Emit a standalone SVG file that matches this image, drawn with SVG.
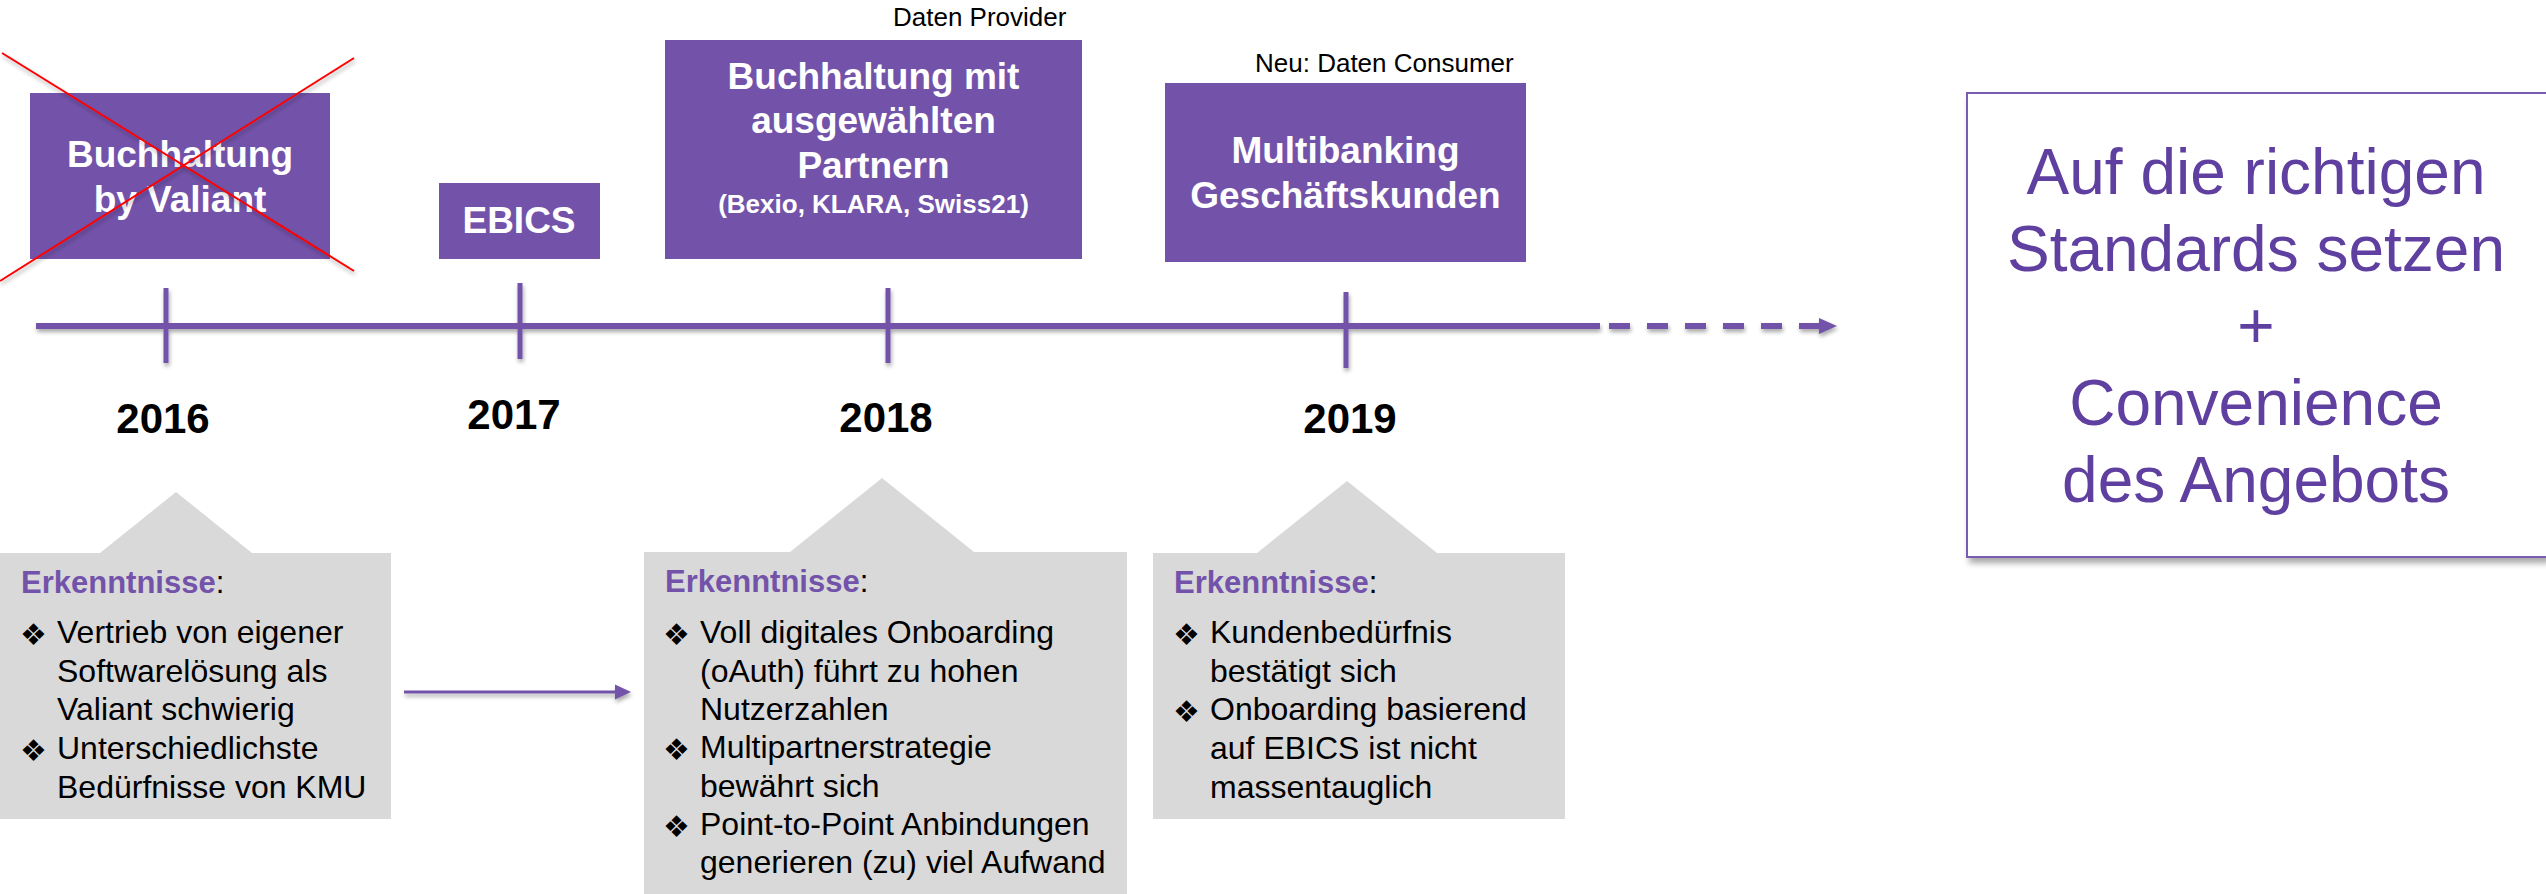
<svg xmlns="http://www.w3.org/2000/svg" width="2546" height="894" viewBox="0 0 2546 894">
<defs>
<style>
.pbox{fill:#7353aa}
.wt{font-family:"Liberation Sans",Arial,sans-serif;font-weight:bold;fill:#ffffff;text-anchor:middle}
.yr{font-family:"Liberation Sans",Arial,sans-serif;font-weight:bold;font-size:42px;fill:#000000;text-anchor:middle}
.note{font-family:"Liberation Sans",Arial,sans-serif;font-size:26px;fill:#000000}
.gbox{fill:#d9d9d9}
.hd{font-family:"Liberation Sans",Arial,sans-serif;font-size:31px;font-weight:bold;fill:#7353aa}
.colon{font-weight:normal;fill:#000000}
.bt{font-family:"Liberation Sans",Arial,sans-serif;font-size:32px;fill:#000000}
.bul{font-family:"DejaVu Sans",sans-serif;font-size:30px;fill:#000000}
.goal{font-family:"Liberation Sans",Arial,sans-serif;font-size:64px;fill:#5f3f9f;text-anchor:middle}
.tl{stroke:#7353aa;fill:none}
</style>
<filter id="sh" x="-5%" y="-50%" width="110%" height="200%">
<feGaussianBlur in="SourceAlpha" stdDeviation="2"/>
<feOffset dx="1" dy="3" result="b"/>
<feComponentTransfer><feFuncA type="linear" slope="0.35"/></feComponentTransfer>
<feMerge><feMergeNode/><feMergeNode in="SourceGraphic"/></feMerge>
</filter>
<filter id="sh2" x="-5%" y="-5%" width="110%" height="110%">
<feGaussianBlur in="SourceAlpha" stdDeviation="3"/>
<feOffset dx="3" dy="5" result="b"/>
<feComponentTransfer><feFuncA type="linear" slope="0.35"/></feComponentTransfer>
<feMerge><feMergeNode/><feMergeNode in="SourceGraphic"/></feMerge>
</filter>
</defs>

<g id="connectors" filter="url(#sh)">
<line class="tl" x1="36" y1="326" x2="1600" y2="326" stroke-width="6"/>
<line class="tl" x1="1609" y1="326" x2="1820" y2="326" stroke-width="6" stroke-dasharray="21 17"/>
<path d="M1819,318 L1837,326 L1819,334 z" fill="#7353aa"/>
<line class="tl" x1="166" y1="288" x2="166" y2="363" stroke-width="5"/>
<line class="tl" x1="520" y1="283" x2="520" y2="359" stroke-width="5"/>
<line class="tl" x1="888" y1="288" x2="888" y2="363" stroke-width="5"/>
<line class="tl" x1="1346" y1="292" x2="1346" y2="368" stroke-width="5"/>
<line class="tl" x1="404" y1="692" x2="616" y2="692" stroke-width="3"/>
<path d="M615,684.5 L631,692 L615,699.5 z" fill="#7353aa"/>
</g>

<g id="node-2016">
<rect class="pbox" x="30" y="93" width="300" height="166"/>
<text class="wt" font-size="37" x="180" y="167">Buchhaltung</text>
<text class="wt" font-size="37" x="180" y="212">by Valiant</text>
<g filter="url(#sh)">
<line x1="2" y1="53" x2="354" y2="271" stroke="#ff0000" stroke-width="2"/>
<line x1="354" y1="58" x2="0" y2="281" stroke="#ff0000" stroke-width="2"/>
</g>
</g>

<g id="node-2017">
<rect class="pbox" x="439" y="183" width="161" height="76"/>
<text class="wt" font-size="37" x="519" y="233">EBICS</text>
</g>

<g id="node-2018">
<text class="note" x="893" y="26">Daten Provider</text>
<rect class="pbox" x="665" y="40" width="417" height="219"/>
<text class="wt" font-size="37" x="873.5" y="89">Buchhaltung mit</text>
<text class="wt" font-size="37" x="873.5" y="133">ausgewählten</text>
<text class="wt" font-size="37" x="873.5" y="178">Partnern</text>
<text class="wt" font-size="26" x="873.5" y="213">(Bexio, KLARA, Swiss21)</text>
</g>

<g id="node-2019">
<text class="note" x="1255" y="72">Neu: Daten Consumer</text>
<rect class="pbox" x="1165" y="83" width="361" height="179"/>
<text class="wt" font-size="37" x="1345.5" y="163">Multibanking</text>
<text class="wt" font-size="37" x="1345.5" y="208">Geschäftskunden</text>
</g>

<g id="years">
<text class="yr" x="163" y="433">2016</text>
<text class="yr" x="514" y="429">2017</text>
<text class="yr" x="886" y="432">2018</text>
<text class="yr" x="1350" y="433">2019</text>
</g>

<g id="insight-2016">
<path class="gbox" d="M0,553 L100,553 L176,492 L252,553 L391,553 L391,819 L0,819 z"/>
<text class="hd" x="21" y="593">Erkenntnisse<tspan class="colon">:</tspan></text>
<text class="bul" x="20" y="645">❖</text>
<text class="bt" x="57" y="643">Vertrieb von eigener</text>
<text class="bt" x="57" y="682">Softwarelösung als</text>
<text class="bt" x="57" y="720">Valiant schwierig</text>
<text class="bul" x="20" y="761">❖</text>
<text class="bt" x="57" y="759">Unterschiedlichste</text>
<text class="bt" x="57" y="798">Bedürfnisse von KMU</text>
</g>

<g id="insight-2018">
<path class="gbox" d="M644,552 L790,552 L882,478 L974,552 L1127,552 L1127,894 L644,894 z"/>
<text class="hd" x="665" y="592">Erkenntnisse<tspan class="colon">:</tspan></text>
<text class="bul" x="663" y="645">❖</text>
<text class="bt" x="700" y="643">Voll digitales Onboarding</text>
<text class="bt" x="700" y="682">(oAuth) führt zu hohen</text>
<text class="bt" x="700" y="720">Nutzerzahlen</text>
<text class="bul" x="663" y="760">❖</text>
<text class="bt" x="700" y="758">Multipartnerstrategie</text>
<text class="bt" x="700" y="797">bewährt sich</text>
<text class="bul" x="663" y="837">❖</text>
<text class="bt" x="700" y="835">Point-to-Point Anbindungen</text>
<text class="bt" x="700" y="873">generieren (zu) viel Aufwand</text>
</g>

<g id="insight-2019">
<path class="gbox" d="M1153,553 L1257,553 L1347,481 L1437,553 L1565,553 L1565,819 L1153,819 z"/>
<text class="hd" x="1174" y="593">Erkenntnisse<tspan class="colon">:</tspan></text>
<text class="bul" x="1173" y="645">❖</text>
<text class="bt" x="1210" y="643">Kundenbedürfnis</text>
<text class="bt" x="1210" y="682">bestätigt sich</text>
<text class="bul" x="1173" y="722">❖</text>
<text class="bt" x="1210" y="720">Onboarding basierend</text>
<text class="bt" x="1210" y="759">auf EBICS ist nicht</text>
<text class="bt" x="1210" y="798">massentauglich</text>
</g>

<g id="goal">
<rect x="1967" y="93" width="580" height="464" fill="#ffffff" stroke="#7a5cb3" stroke-width="2" filter="url(#sh2)"/>
<text class="goal" x="2256" y="194">Auf die richtigen</text>
<text class="goal" x="2256" y="271">Standards setzen</text>
<text class="goal" x="2256" y="348">+</text>
<text class="goal" x="2256" y="425">Convenience</text>
<text class="goal" x="2256" y="502">des Angebots</text>
</g>
</svg>
